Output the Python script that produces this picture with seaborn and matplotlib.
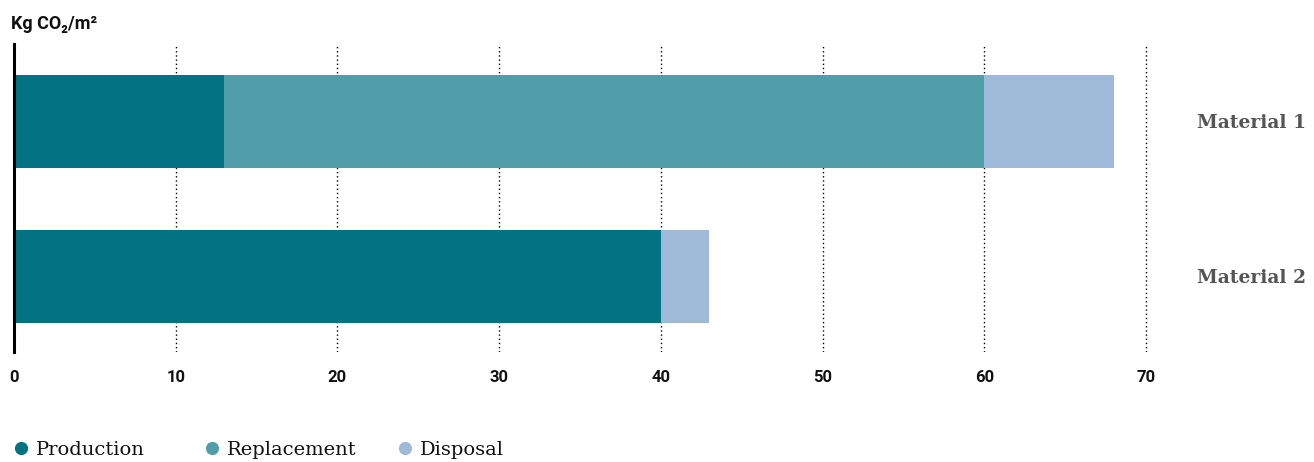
import matplotlib
matplotlib.use("Agg")
import matplotlib.pyplot as plt
from matplotlib.lines import Line2D
import seaborn as sns
import pandas as pd
import numpy as np

categories = ["Material 1", "Material 2"]
production = [13, 40]
replacement = [47, 0]
disposal = [8, 3]
series_names = ["Production", "Replacement", "Disposal"]
colors = ["#037282", "#519EAA", "#9EBAD8"]
xticks = [0, 10, 20, 30, 40, 50, 60, 70]

sns.set_theme(style="white")
plt.rcParams["font.family"] = ["Roboto", "DejaVu Sans"]

fig = plt.figure(figsize=(13.14, 4.62), dpi=100)
ppu = (1146 - 14) / 70.0
xmax = 70.5
ax = fig.add_axes([14/1314, 1-352/462, xmax*ppu/1314, (352-44)/462])

prod = np.array(production)
repl = np.array(replacement)
disp = np.array(disposal)
cum = [prod + repl + disp, prod + repl, prod]
for vals, col in zip(cum, colors[::-1]):
    df = pd.DataFrame({"cat": categories, "val": vals})
    sns.barplot(data=df, y="cat", x="val", color=col, width=0.6,
                orient="h", ax=ax, saturation=1, edgecolor="none", linewidth=0)

ax.set_xlim(0, xmax)
ax.set_ylim(1.49, -0.5)
ax.set_xticks(xticks)
ax.set_xticklabels([str(t) for t in xticks], fontweight="bold", fontsize=12,
                   color="#111111")
ax.tick_params(axis="x", length=0, pad=13)
ax.set_xlabel("")
ax.set_ylabel("")
ax.set_axisbelow(True)
ax.xaxis.grid(True, linestyle=(0, (1, 2)), color="black", linewidth=1)
ax.yaxis.grid(False)
for s in ["top", "right", "bottom"]:
    ax.spines[s].set_visible(False)
ax.spines["left"].set_color("black")
ax.spines["left"].set_linewidth(2.2)

ax.yaxis.tick_right()
ax.tick_params(axis="y", length=0, pad=31)
for lab in ax.get_yticklabels():
    lab.set_fontfamily("DejaVu Serif")
    lab.set_fontweight("bold")
    lab.set_fontsize(13.5)
    lab.set_color("#555555")
ax.set_yticklabels(ax.get_yticklabels())

fig.text(11/1314, 1-24/462, "Kg CO\u2082/m\u00b2", fontsize=13, fontweight="bold",
         va="center", ha="left", color="#111111")

marker_x = [20, 211, 404]
for name, col, mx in zip(series_names, colors, marker_x):
    h = Line2D([], [], marker="o", linestyle="none", markersize=9.5,
               markerfacecolor=col, markeredgecolor="none")
    leg = fig.legend([h], [name], loc="center left",
                     bbox_to_anchor=((mx - 9)/1314, 1-450/462), frameon=False,
                     borderpad=0, borderaxespad=0,
                     handletextpad=0.3, handlelength=1.0,
                     prop={"family": "DejaVu Serif", "size": 14})
    for t in leg.get_texts():
        t.set_color("#111111")

fig.savefig("out.png", dpi=100)
